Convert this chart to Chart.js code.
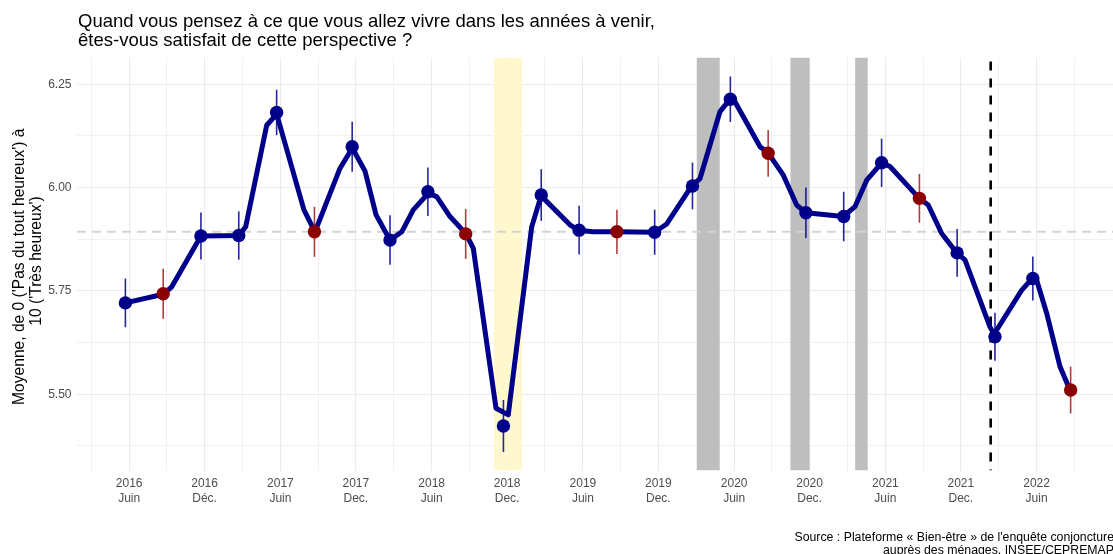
<!DOCTYPE html>
<html><head><meta charset="utf-8">
<script src="https://cdn.jsdelivr.net/npm/chart.js@4.4.0/dist/chart.umd.min.js"></script>
<style>html,body{margin:0;padding:0;background:#fff;overflow:hidden}#wrap{width:1113px;height:554px}</style>
</head><body><div id="wrap"><canvas id="c" width="1113" height="554"></canvas></div>
<script>
// ---------- texts ----------
const titleLines = ["Quand vous pensez à ce que vous allez vivre dans les années à venir,", "êtes-vous satisfait de cette perspective ?"];
const yTitleLines = ["Moyenne, de 0 ('Pas du tout heureux') à", "10 ('Très heureux')"];
const captionLines = ["Source : Plateforme « Bien-être » de l'enquête conjoncture", "auprès des ménages, INSEE/CEPREMAP"];

// ---------- quarterly survey waves ----------
const surveyDates = ['2016-06-06','2016-09-06','2016-12-06','2017-03-06','2017-06-06','2017-09-06','2017-12-06','2018-03-06','2018-06-06','2018-09-06','2018-12-06','2019-03-06','2019-06-06','2019-09-06','2019-12-06','2020-03-06','2020-06-06','2020-09-06','2020-12-06','2021-03-06','2021-06-06','2021-09-06','2021-12-06','2022-03-06','2022-06-06','2022-09-06'];
const meanValues = [5.721,5.743,5.883,5.884,6.182,5.893,6.099,5.873,5.990,5.888,5.423,5.982,5.897,5.893,5.892,6.004,6.214,6.083,5.939,5.930,6.060,5.974,5.842,5.639,5.780,5.510];
const ciHalf = [0.059,0.0605,0.057,0.0585,0.055,0.0605,0.0605,0.060,0.0585,0.0605,0.063,0.0625,0.059,0.0537,0.0545,0.0565,0.055,0.0565,0.061,0.060,0.0585,0.059,0.0577,0.058,0.053,0.0565];

// ---------- trend line (decimal years) ----------
const lineYears = [2016.431,2016.681,2016.737,2016.930,2017.177,2017.226,2017.365,2017.431,2017.611,2017.684,2017.850,2017.931,2018.015,2018.088,2018.180,2018.258,2018.334,2018.433,2018.489,2018.577,2018.683,2018.731,2018.881,2018.962,2019.117,2019.179,2019.370,2019.425,2019.524,2019.679,2019.928,2020.010,2020.175,2020.230,2020.362,2020.428,2020.461,2020.627,2020.682,2020.781,2020.869,2020.931,2021.177,2021.255,2021.332,2021.431,2021.486,2021.680,2021.739,2021.828,2021.927,2021.982,2022.147,2022.174,2022.357,2022.427,2022.456,2022.522,2022.610,2022.676];
const lineValues = [5.721,5.742,5.760,5.883,5.884,5.905,6.151,6.178,5.946,5.893,6.047,6.096,6.040,5.934,5.873,5.893,5.946,5.986,5.978,5.930,5.888,5.853,5.466,5.450,5.905,5.980,5.910,5.897,5.893,5.893,5.892,5.912,6.004,6.022,6.184,6.214,6.208,6.099,6.083,6.030,5.958,5.939,5.930,5.954,6.018,6.060,6.051,5.974,5.958,5.889,5.842,5.825,5.663,5.645,5.752,5.780,5.776,5.696,5.567,5.510];

// ---------- axes ----------
const gridDates = ['2016-03-15','2016-06-15','2016-09-15','2016-12-15','2017-03-15','2017-06-15','2017-09-15','2017-12-15','2018-03-15','2018-06-15','2018-09-15','2018-12-15','2019-03-15','2019-06-15','2019-09-15','2019-12-15','2020-03-15','2020-06-15','2020-09-15','2020-12-15','2021-03-15','2021-06-15','2021-09-15','2021-12-15','2022-03-15','2022-06-15','2022-09-15'];
const tickLabels = ['','2016\nJuin','','2016\nDéc.','','2017\nJuin','','2017\nDec.','','2018\nJuin','','2018\nDec.','','2019\nJuin','','2019\nDec.','','2020\nJuin','','2020\nDec.','','2021\nJuin','','2021\nDec.','','2022\nJuin',''];
const yGridValues = [5.375,5.5,5.625,5.75,5.875,6.0,6.125,6.25];
const yLabelValues = [5.5,5.75,6.0,6.25];

// ---------- annotations ----------
const periodStart = ['2018-11-13','2020-03-17','2020-10-30','2021-04-03'];
const periodEnd   = ['2019-01-21','2020-05-11','2020-12-15','2021-05-03'];
const periodKind  = ['gilets','confinement','confinement','confinement'];
const referenceMean = 5.893;
const eventDate = '2022-02-24';

function toYear(s){
  const [y,m,d] = s.split('-').map(Number);
  const dim = new Date(Date.UTC(y, m, 0)).getUTCDate();
  return y + (m - 1 + (d - 1) / dim) / 12;
}

const FONT = "'Liberation Sans', Arial, Helvetica, sans-serif";
const BLUE = '#00008B', RED = '#8B0000';
const isSept = surveyDates.map(d => d.slice(5,7) === '09');

const decor = {
  id: 'decor',
  beforeDatasetsDraw(chart){
    const {ctx, chartArea: a, scales: {x, y}} = chart;
    ctx.save();
    ctx.beginPath(); ctx.rect(a.left, a.top, a.right - a.left, a.bottom - a.top); ctx.clip();
    periodStart.forEach((s, i) => {
      const x0 = x.getPixelForValue(toYear(s)), x1 = x.getPixelForValue(toYear(periodEnd[i]));
      ctx.fillStyle = periodKind[i] === 'gilets' ? '#FFF8CF' : '#BEBEBE';
      ctx.fillRect(x0, a.top, x1 - x0, a.bottom - a.top);
    });
    const yr = y.getPixelForValue(referenceMean);
    ctx.strokeStyle = '#D3D3D3'; ctx.lineWidth = 2; ctx.setLineDash([9, 6]);
    ctx.beginPath(); ctx.moveTo(a.left, yr); ctx.lineTo(a.right, yr); ctx.stroke();
    const xe = x.getPixelForValue(toYear(eventDate));
    ctx.strokeStyle = '#000'; ctx.lineWidth = 2.6; ctx.setLineDash([9, 8]);
    ctx.beginPath(); ctx.moveTo(xe, a.top + 4); ctx.lineTo(xe, a.bottom); ctx.stroke();
    ctx.restore();
  },
  afterDatasetDraw(chart, args){
    if (args.index !== 1) return;
    const {ctx, scales: {x, y}} = chart;
    ctx.save();
    ctx.lineWidth = 1.6;
    surveyDates.forEach((d, i) => {
      const px = x.getPixelForValue(toYear(d));
      ctx.strokeStyle = isSept[i] ? 'rgba(139,0,0,0.75)' : 'rgba(0,0,139,0.85)';
      ctx.beginPath();
      ctx.moveTo(px, y.getPixelForValue(meanValues[i] - ciHalf[i]));
      ctx.lineTo(px, y.getPixelForValue(meanValues[i] + ciHalf[i]));
      ctx.stroke();
    });
    ctx.restore();
  },
  afterDraw(chart){
    const {ctx} = chart;
    ctx.save();
    ctx.fillStyle = '#000';
    ctx.font = '18.5px ' + FONT; ctx.textAlign = 'left'; ctx.textBaseline = 'alphabetic';
    ctx.fillText(titleLines[0], 78, 26.8);
    ctx.fillText(titleLines[1], 78, 45.5);
    ctx.font = '15.6px ' + FONT; ctx.textAlign = 'center'; ctx.textBaseline = 'middle';
    [[19.8, 266.7], [36.4, 261]].forEach(([cx, cy], i) => {
      ctx.save(); ctx.translate(cx, cy); ctx.rotate(-Math.PI / 2);
      ctx.fillText(yTitleLines[i], 0, 0); ctx.restore();
    });
    ctx.font = '12.3px ' + FONT; ctx.textAlign = 'right'; ctx.textBaseline = 'alphabetic';
    ctx.fillText(captionLines[0], 1114, 540.8);
    ctx.fillText(captionLines[1], 1114, 554.3);
    ctx.restore();
  }
};

const isMajorY = v => yLabelValues.some(l => Math.abs(l - v) < 1e-6);

new Chart(document.getElementById('c'), {
  type: 'line',
  data: {
    datasets: [
      {
        label: 'Moyenne',
        data: surveyDates.map((d, i) => ({x: toYear(d), y: meanValues[i]})),
        showLine: false,
        pointRadius: 6.7, pointHoverRadius: 6.7, pointBorderWidth: 0,
        pointBackgroundColor: isSept.map(s => s ? RED : BLUE),
        order: 0
      },
      {
        label: 'Tendance',
        data: lineYears.map((xv, i) => ({x: xv, y: lineValues[i]})),
        borderColor: BLUE, borderWidth: 5, pointRadius: 0, tension: 0,
        borderJoinStyle: 'round', fill: false,
        order: 1
      }
    ]
  },
  options: {
    responsive: false, animation: false, events: [],
    layout: {padding: {left: 0, right: 0, top: 57.5, bottom: 0}, autoPadding: false},
    plugins: {legend: {display: false}, tooltip: {enabled: false}},
    scales: {
      x: {
        type: 'linear', min: 2016.1106, max: 2022.9606,
        afterBuildTicks: s => { s.ticks = gridDates.map(d => ({value: toYear(d)})); },
        afterFit: s => { s.height = 83.5; },
        grid: {color: '#EBEBEB', lineWidth: c => (tickLabels[c.index] ? 1.1 : 0.7), drawTicks: false},
        border: {display: false},
        ticks: {
          padding: 6.3, color: '#4D4D4D', font: {family: FONT, size: 12}, autoSkip: false,
          maxRotation: 0, minRotation: 0,
          callback: (v, i) => (tickLabels[i] ? tickLabels[i].split('\n') : '')
        }
      },
      y: {
        type: 'linear', min: 5.3153, max: 6.3149,
        afterBuildTicks: s => { s.ticks = yGridValues.map(v => ({value: v})); },
        afterFit: s => { s.width = 77; },
        grid: {color: '#EBEBEB', lineWidth: c => (c.tick && isMajorY(c.tick.value) ? 1.1 : 0.7), drawTicks: false},
        border: {display: false},
        ticks: {
          padding: 5.5, color: '#4D4D4D', font: {family: FONT, size: 12},
          callback: v => (isMajorY(v) ? Number(v).toFixed(2) : '')
        }
      }
    }
  },
  plugins: [decor]
});
</script>
</body></html>
